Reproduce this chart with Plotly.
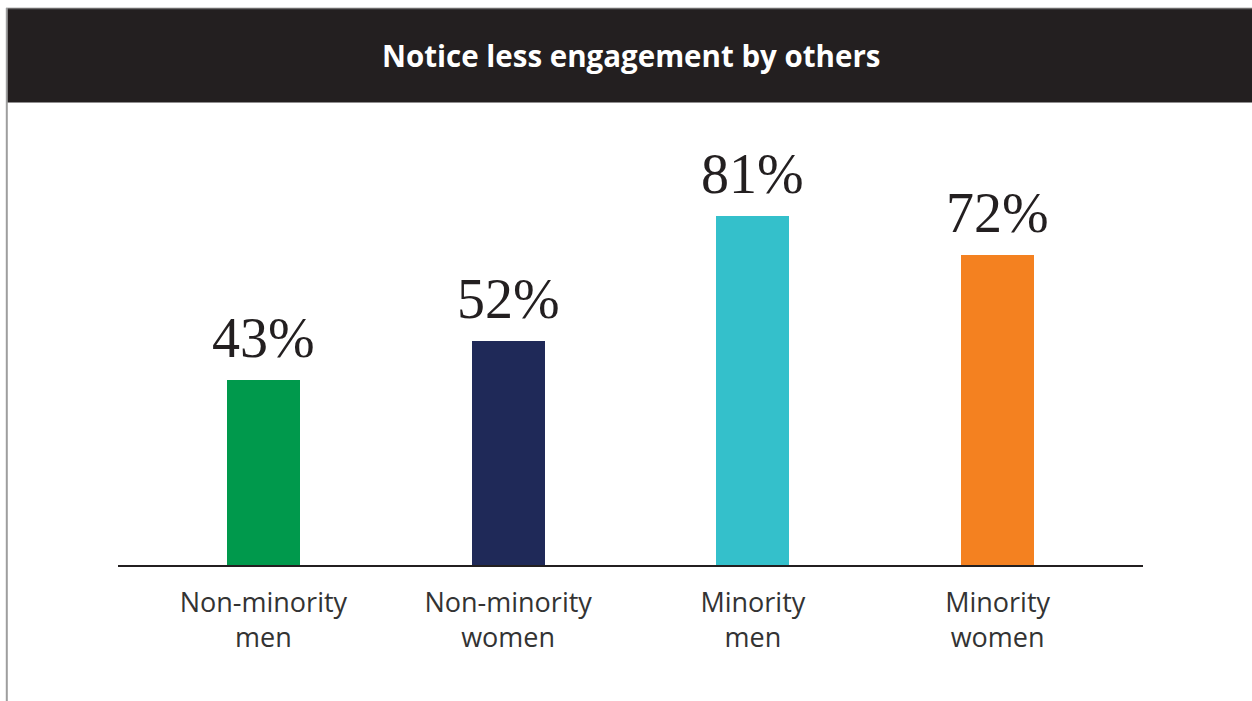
import plotly.graph_objects as go

W, H = 1252, 701

categories = ["Non-minority<br>men", "Non-minority<br>women", "Minority<br>men", "Minority<br>women"]
values = [43, 52, 81, 72]
bar_colors = ["#00994c", "#1f2958", "#34c0cb", "#f48120"]
title_text = "Notice less engagement by others"

# pixel layout helpers (margins are zero, so paper coords == page fractions)
def px(x):
    return x / W

def py(y):
    return 1 - y / H

x_idx = list(range(len(categories)))

fig = go.Figure(
    go.Bar(
        x=x_idx,
        y=values,
        width=0.298,
        marker=dict(color=bar_colors, line=dict(width=0)),
        hoverinfo="skip",
    )
)

# value labels above each bar
value_labels = [
    dict(text=f"{v}%", x=i, y=v, xref="x", yref="y",
         xanchor="center", yanchor="bottom", yshift=9, showarrow=False,
         font=dict(family="Liberation Serif", size=56, color="#231f20"))
    for i, v in zip(x_idx, values)
]

fig.update_layout(
    width=W,
    height=H,
    margin=dict(l=0, r=0, t=0, b=0),
    paper_bgcolor="white",
    plot_bgcolor="white",
    showlegend=False,
    bargap=0,
    xaxis=dict(
        domain=[px(118), px(1143)],
        range=[-0.594, 3.594],
        tickmode="array",
        tickvals=x_idx,
        ticktext=categories,
        tickfont=dict(family="Open Sans", size=27, color="#333333"),
        ticklabelstandoff=13,
        showline=True,
        linecolor="#231f20",
        linewidth=1.5,
        showgrid=False,
        zeroline=False,
        ticks="",
        fixedrange=True,
    ),
    yaxis=dict(
        domain=[py(565), py(120)],
        range=[0, 445 / 4.31],
        visible=False,
        fixedrange=True,
    ),
    shapes=[
        # header band
        dict(type="rect", xref="paper", yref="paper",
             x0=px(7), x1=1, y0=py(102.5), y1=py(9),
             fillcolor="#231f20", line=dict(width=0), layer="below"),
        # top frame line
        dict(type="line", xref="paper", yref="paper",
             x0=px(6), x1=1, y0=py(8.5), y1=py(8.5),
             line=dict(color="#6d6b6b", width=1.5)),
        # left frame line
        dict(type="line", xref="paper", yref="paper",
             x0=px(6.8), x1=px(6.8), y0=0, y1=py(8),
             line=dict(color="#9e9e9e", width=2)),
    ],
    annotations=[
        dict(text=f"<b>{title_text}</b>", xref="paper", yref="paper",
             x=px(631), y=py(55.5), xanchor="center", yanchor="middle",
             showarrow=False,
             font=dict(family="Open Sans", size=29.5, color="white")),
    ] + value_labels,
)

fig.write_html("out.html")
